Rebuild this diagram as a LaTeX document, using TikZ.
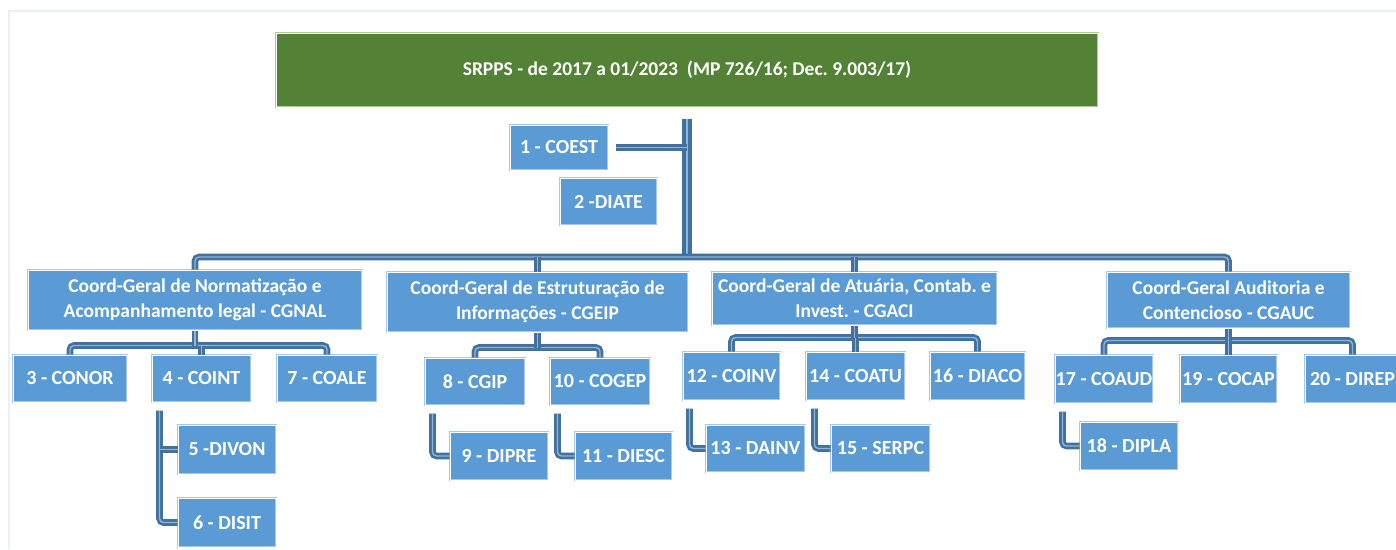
\documentclass[tikz,border=0pt]{standalone}
\usepackage{fontspec}
\setmainfont{Carlito}
\usepackage{xcolor}
\usetikzlibrary{positioning}
\definecolor{unitblue}{HTML}{5B9BD5}
\definecolor{unitedge}{HTML}{A7C8EA}
\definecolor{linkblue}{HTML}{41719C}
\definecolor{linklight}{HTML}{8FB4DE}
\definecolor{headgreen}{HTML}{538135}
\definecolor{headedge}{HTML}{A9D18E}
\definecolor{framelight}{HTML}{E8F0FA}
\frenchspacing

\begin{document}
\begin{tikzpicture}[x=1pt, y=-1pt]

    \tikzset{
        unit/.style = {rectangle, minimum width=98pt, minimum height=47pt, inner sep=0pt, align=center, text=white, font=\bfseries\fontsize{20}{24}\selectfont, fill=unitblue, draw=unitedge, line width=1pt, double=white, double distance=0.9pt},
        group/.style = {unit, font=\bfseries\fontsize{19.5}{25}\selectfont},
        head/.style = {unit, fill=headgreen, draw=headedge, font=\bfseries\fontsize{19.5}{23}\selectfont},
        link/.style = {draw=linkblue, line width=2.6pt, double=linklight, double distance=1.4pt, rounded corners=4pt},
        trunk/.style = {link, line width=4pt, double distance=2pt}
    }

    \useasboundingbox (0,0) rectangle (1396,549);
    \draw[framelight, line width=1.5pt] (9,549) -- (9,11) -- (1396,11);

    \node (srpps) [head, minimum width=822pt, minimum height=74pt] at (687,70) {SRPPS - de 2017 a 01/2023\ \ (MP 726/16; Dec. 9.003/17)};
    \node (coest) [unit, minimum height=45pt] at (559,147.5) {1 - COEST};
    \node (diate) [unit, minimum width=97pt] at (608.5,201.5) {2 -DIATE};

    \node (cgnal) [group, minimum width=334pt, minimum height=60pt] at (195,300) {Coord-Geral de Normatização e\\Acompanhamento legal - CGNAL};
    \node (cgeip) [group, minimum width=301pt, minimum height=60pt] at (537.5,302) {Coord-Geral de Estruturação de\\Informações - CGEIP};
    \node (cgaci) [group, minimum width=285pt, minimum height=53pt] at (854.5,298.5) {Coord-Geral de Atuária, Contab. e\\Invest. - CGACI};
    \node (cgauc) [group, minimum width=243pt, minimum height=56pt] at (1228.5,300) {Coord-Geral Auditoria e\\Contencioso - CGAUC};

    \node (conor) [unit, minimum width=114pt] at (70,378.5) {3 - CONOR};
    \node (coint) [unit, minimum width=99pt] at (201.5,378.5) {4 - COINT};
    \node (coale) [unit, minimum width=100pt] at (327,378.5) {7 - COALE};
    \node (divon) [unit, minimum height=49pt] at (227,449.5) {5 -DIVON};
    \node (disit) [unit, minimum height=49pt] at (227,522.5) {6 - DISIT};

    \node (cgip) [unit, minimum width=100pt] at (475,381.5) {8 - CGIP};
    \node (cogep) [unit, minimum width=100pt] at (600,381.5) {10 - COGEP};
    \node (dipre) [unit, minimum height=48pt] at (499,456) {9 - DIPRE};
    \node (diesc) [unit, minimum width=97pt, minimum height=48pt] at (623.5,456) {11 - DIESC};

    \node (coinv) [unit, minimum width=97pt, minimum height=48pt] at (731.5,376) {12 - COINV};
    \node (coatu) [unit, minimum width=99pt, minimum height=48pt] at (855.5,376) {14 - COATU};
    \node (diaco) [unit, minimum width=95pt, minimum height=48pt] at (977.5,376) {16 - DIACO};
    \node (dainv) [unit, minimum width=99pt] at (755.5,448.5) {13 - DAINV};
    \node (serpc) [unit, minimum width=99pt] at (880.5,448.5) {15 - SERPC};

    \node (coaud) [unit, minimum height=48pt] at (1104,379) {17 - COAUD};
    \node (cocap) [unit, minimum width=97pt, minimum height=48pt] at (1228.5,379) {19 - COCAP};
    \node (direp) [unit, minimum width=95pt, minimum height=48pt] at (1352.5,379) {20 - DIREP};
    \node (dipla) [unit, minimum height=48pt] at (1129,446) {18 - DIPLA};

    \coordinate (bus) at (0,257);
    \draw [trunk] ([yshift=-11pt]srpps.south) -- (srpps.south |- bus);
    \draw [link] ([xshift=7pt]coest.east) -- (coest.east -| srpps.south);
    \draw [link] (cgnal.north) -- (cgnal.north |- bus) -- (cgauc.north |- bus) -- (cgauc.north);
    \draw [link] (cgeip.north) -- (cgeip.north |- bus);
    \draw [link] (cgaci.north) -- (cgaci.north |- bus);

    \coordinate (nalbus) at ([yshift=-15pt]cgnal.south);
    \draw [link] (conor.north) -- (conor.north |- nalbus) -- (coale.north |- nalbus) -- (coale.north);
    \draw [link] (cgnal.south) -- (nalbus);
    \draw [link] (coint.north) -- (coint.north |- nalbus);

    \coordinate (eipbus) at ([yshift=-15pt]cgeip.south);
    \draw [link] (cgip.north) -- (cgip.north |- eipbus) -- (cogep.north |- eipbus) -- (cogep.north);
    \draw [link] (cgeip.south) -- (eipbus);

    \coordinate (acibus) at ([yshift=-12pt]cgaci.south);
    \draw [link] (coinv.north) -- (coinv.north |- acibus) -- (diaco.north |- acibus) -- (diaco.north);
    \draw [link] (cgaci.south) -- (acibus);
    \draw [link] (coatu.north) -- (coatu.north |- acibus);

    \coordinate (aucbus) at ([yshift=-12pt]cgauc.south);
    \draw [link] (coaud.north) -- (coaud.north |- aucbus) -- (direp.north |- aucbus) -- (direp.north);
    \draw [link] (cgauc.south) -- (aucbus);
    \draw [link] (cocap.north) -- (cocap.north |- aucbus);

    \coordinate (intdown) at ([xshift=8pt, yshift=-8pt]coint.south west);
    \draw [link] (intdown) |- (disit.west);
    \draw [link] (intdown |- divon.west) -- (divon.west);

    \coordinate (gipdown) at ([xshift=8pt, yshift=-8pt]cgip.south west);
    \draw [link] (gipdown) |- (dipre.west);
    \coordinate (gepdown) at ([xshift=8pt, yshift=-8pt]cogep.south west);
    \draw [link] (gepdown) |- (diesc.west);

    \coordinate (invdown) at ([xshift=7pt, yshift=-8pt]coinv.south west);
    \draw [link] (invdown) |- (dainv.west);
    \coordinate (atudown) at ([xshift=9pt, yshift=-8pt]coatu.south west);
    \draw [link] (atudown) |- (serpc.west);

    \coordinate (auddown) at ([xshift=8pt, yshift=-8pt]coaud.south west);
    \draw [link] (auddown) |- (dipla.west);

\end{tikzpicture}
\end{document}
